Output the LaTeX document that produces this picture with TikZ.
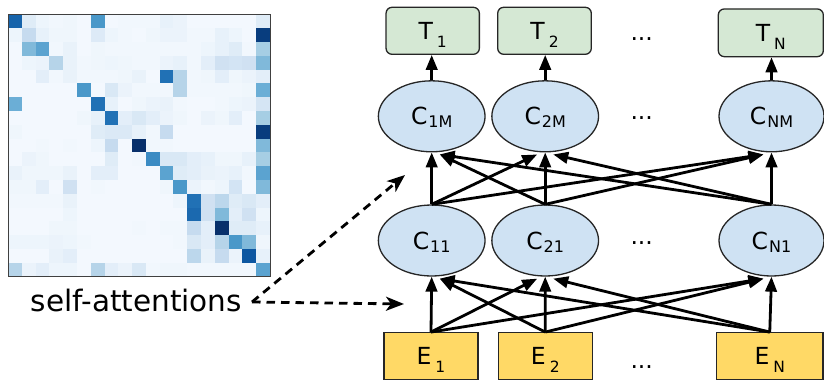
\documentclass[tikz,border=0pt]{standalone}
\usepackage{fontspec}
\setmainfont{DejaVu Sans}
\usetikzlibrary{shapes.geometric,arrows.meta,calc}
\definecolor{b0}{HTML}{F7FBFF}
\definecolor{b1}{HTML}{DEEBF7}
\definecolor{b2}{HTML}{C6DBEF}
\definecolor{b3}{HTML}{9ECAE1}
\definecolor{b4}{HTML}{6BAED6}
\definecolor{b5}{HTML}{4292C6}
\definecolor{b6}{HTML}{2171B5}
\definecolor{b7}{HTML}{08519C}
\definecolor{b8}{HTML}{08306B}
\definecolor{cfill}{HTML}{CFE2F3}
\definecolor{tfill}{HTML}{D5E8D4}
\definecolor{efill}{HTML}{FFD966}
\newcommand\mylbl[4]{{\fontsize{23.5}{23.5}\selectfont #1}\kern#3\raisebox{#4}[0pt][0pt]{\fontsize{16}{16}\selectfont #2}}
\newcommand\mylblb[4]{{\fontsize{23.5}{23.5}\selectfont #1}\kern#3\raisebox{#4}[0pt][0pt]{\fontsize{15.5}{15.5}\selectfont #2}}
\begin{document}
\begin{tikzpicture}[x=1pt,y=-1pt,
  tbox/.style={draw=black!85, line width=1.3pt, fill=tfill, rounded corners=6pt, minimum height=47pt, inner sep=0},
  ebox/.style={draw=black!85, line width=1.3pt, fill=efill, minimum height=46.6pt, inner sep=0},
  cell/.style={ellipse, draw=black!85, line width=1.3pt, fill=cfill, minimum width=106.7pt, minimum height=71pt, inner sep=0},
  conn/.style={line width=2.8pt, -{Triangle[length=15pt,width=11.5pt]}},
  dconn/.style={line width=2.8pt, dash pattern=on 8.5pt off 6pt, -{Stealth[length=18pt,width=14pt,inset=5pt]}},
  dots/.style={font=\fontsize{23.5}{23.5}\selectfont, inner sep=0, anchor=base}]
\useasboundingbox (0,0) rectangle (824,380);
% heatmap
\foreach \rowv [count=\r from 0] in {
{0.8,0.12,0.05,0.03,0.04,0.02,0.6,0.02,0.03,0.03,0.03,0.08,0.06,0.02,0.02,0.02,0.02,0.02,0.12},
{0.05,0.25,0.08,0.04,0.04,0.02,0.13,0.05,0.03,0.02,0.04,0.06,0.06,0.03,0.03,0.08,0.05,0.02,0.95},
{0.02,0.45,0.55,0.03,0.07,0.02,0.04,0.03,0.03,0.03,0.03,0.03,0.03,0.03,0.05,0.08,0.12,0.03,0.35},
{0.02,0.05,0.06,0.3,0.07,0.03,0.04,0.05,0.04,0.03,0.03,0.06,0.08,0.03,0.1,0.2,0.18,0.2,0.45},
{0.02,0.02,0.1,0.03,0.07,0.03,0.03,0.03,0.04,0.07,0.02,0.75,0.3,0.03,0.04,0.1,0.04,0.06,0.1},
{0.02,0.02,0.02,0.02,0.02,0.6,0.02,0.15,0.06,0.03,0.03,0.03,0.3,0.03,0.03,0.03,0.03,0.04,0.5},
{0.5,0.02,0.02,0.02,0.02,0.02,0.75,0.08,0.02,0.04,0.06,0.07,0.03,0.02,0.02,0.03,0.05,0.06,0.17},
{0.02,0.02,0.02,0.02,0.02,0.04,0.08,0.75,0.1,0.15,0.1,0.06,0.04,0.02,0.06,0.04,0.1,0.02,0.35},
{0.04,0.02,0.02,0.02,0.02,0.02,0.12,0.14,0.14,0.08,0.03,0.25,0.02,0.02,0.02,0.02,0.02,0.02,0.95},
{0.02,0.02,0.03,0.02,0.03,0.02,0.05,0.25,0.02,1.0,0.03,0.03,0.02,0.02,0.02,0.02,0.02,0.02,0.45},
{0.02,0.06,0.04,0.02,0.02,0.02,0.02,0.12,0.02,0.03,0.65,0.15,0.15,0.1,0.08,0.04,0.04,0.08,0.35},
{0.07,0.04,0.04,0.04,0.07,0.02,0.1,0.1,0.02,0.02,0.02,0.55,0.12,0.1,0.07,0.06,0.08,0.03,0.55},
{0.04,0.04,0.1,0.02,0.2,0.02,0.03,0.02,0.02,0.02,0.02,0.04,0.6,0.06,0.03,0.05,0.18,0.02,0.45},
{0.03,0.03,0.03,0.03,0.07,0.02,0.02,0.02,0.02,0.02,0.02,0.02,0.05,0.75,0.2,0.28,0.12,0.15,0.1},
{0.02,0.02,0.02,0.02,0.05,0.02,0.02,0.02,0.02,0.02,0.02,0.02,0.02,0.78,0.2,0.45,0.1,0.2,0.05},
{0.02,0.02,0.02,0.04,0.04,0.02,0.02,0.02,0.02,0.03,0.02,0.03,0.03,0.25,0.1,1.0,0.12,0.12,0.08},
{0.05,0.05,0.05,0.06,0.05,0.03,0.02,0.02,0.02,0.02,0.02,0.02,0.03,0.15,0.1,0.3,0.6,0.45,0.04},
{0.02,0.02,0.02,0.07,0.1,0.02,0.02,0.02,0.02,0.02,0.02,0.02,0.02,0.28,0.07,0.25,0.06,0.85,0.08},
{0.3,0.06,0.1,0.05,0.05,0.02,0.3,0.1,0.06,0.15,0.03,0.04,0.04,0.03,0.03,0.03,0.03,0.03,0.55}}{
  \foreach \v [count=\c from 0] in \rowv {
    \pgfmathtruncatemacro\seg{min(7,int(\v*8))}
    \pgfmathtruncatemacro\nx{\seg+1}
    \pgfmathtruncatemacro\pc{round((\v*8-\seg)*100)}
    \fill[b\nx!\pc!b\seg] ({8+\c*13.79},{14.5+\r*13.79}) rectangle ++(13.9,13.9);
  }
}
\draw[black!75, line width=1pt] (8,14.5) rectangle (270,276.5);
% label
\node[font=\fontsize{29.5}{29.5}\selectfont, inner sep=0, anchor=base west] (selfatt) at (30.7,311.7) {self-attentions};
\coordinate (sa) at (252,302);
\coordinate (d1) at (405,175);
\coordinate (d2) at (404,304);
% top boxes
\node[tbox, minimum width=93.3pt] (T1) at (432.7,30.8) {\mylblb{T}{1}{4pt}{-7.7pt}};
\node[tbox, minimum width=93.6pt] (T2) at (544.5,30.8) {\mylblb{T}{2}{4pt}{-7.7pt}};
\node[tbox, minimum width=105pt, minimum height=47.7pt] (TN) at (770.8,32.8) {\mylblb{T}{N}{4pt}{-7.7pt}};
% ellipses
\node[cell] (C1M) at (431.7,116.3) {\mylbl{C}{1M}{1pt}{-3pt}};
\node[cell] (C2M) at (545.2,116.3) {\mylbl{C}{2M}{1pt}{-3pt}};
\node[cell, minimum width=105pt] (CNM) at (771.5,116.3) {\mylbl{C}{NM}{1pt}{-3pt}};
\node[cell] (C11) at (431.7,240.5) {\mylbl{C}{11}{1pt}{-3pt}};
\node[cell] (C21) at (545.2,240.5) {\mylbl{C}{21}{1pt}{-3pt}};
\node[cell, minimum width=105pt] (CN1) at (771.5,240.5) {\mylbl{C}{N1}{1pt}{-3pt}};
% bottom boxes
\node[ebox, minimum width=94pt] (E1) at (431,356) {\mylblb{E}{1}{4pt}{-7.5pt}};
\node[ebox, minimum width=94pt] (E2) at (545.3,356) {\mylblb{E}{2}{4pt}{-7.5pt}};
\node[ebox, minimum width=106.5pt] (EN) at (769.75,356) {\mylblb{E}{N}{4pt}{-7.5pt}};
% dots
\node[dots] (dt) at (641.7,40) {...};
\node[dots] (dc2) at (641.7,119.5) {...};
\node[dots] (dc1) at (641.7,244.5) {...};
\node[dots] (de) at (641.7,368.5) {...};
% lower connections
\draw[conn] (E1.north) -- (C11.south);
\draw[conn] (E1.north) -- ($(C21.south)+(-8,2)$);
\draw[conn] (E1.north) -- ($(CN1.south)+(-8,2)$);
\draw[conn] (E2.north) -- ($(C11.south)+(8,2)$);
\draw[conn] (E2.north) -- (C21.south);
\draw[conn] (E2.north) -- ($(CN1.south)+(-8,2)$);
\draw[conn] (EN.north) -- ($(C11.south)+(8,2)$);
\draw[conn] (EN.north) -- ($(C21.south)+(8,2)$);
\draw[conn] (EN.north) -- (CN1.south);
% upper connections
\draw[conn] (C11.north) -- (C1M.south);
\draw[conn] (C11.north) -- ($(C2M.south)+(-8,2)$);
\draw[conn] (C11.north) -- ($(CNM.south)+(-8,2)$);
\draw[conn] (C21.north) -- ($(C1M.south)+(8,2)$);
\draw[conn] (C21.north) -- (C2M.south);
\draw[conn] (C21.north) -- ($(CNM.south)+(-8,2)$);
\draw[conn] (CN1.north) -- ($(C1M.south)+(8,2)$);
\draw[conn] (CN1.north) -- ($(C2M.south)+(8,2)$);
\draw[conn] (CN1.north) -- (CNM.south);
% outputs
\draw[conn] (C1M.north) -- (C1M.north |- T1.south);
\draw[conn] (C2M.north) -- (C2M.north |- T2.south);
\draw[conn] (CNM.north) -- (CNM.north |- TN.south);
% dashed
\draw[dconn] (sa) -- (d1);
\draw[dconn] (sa) -- (d2);
\end{tikzpicture}
\end{document}
